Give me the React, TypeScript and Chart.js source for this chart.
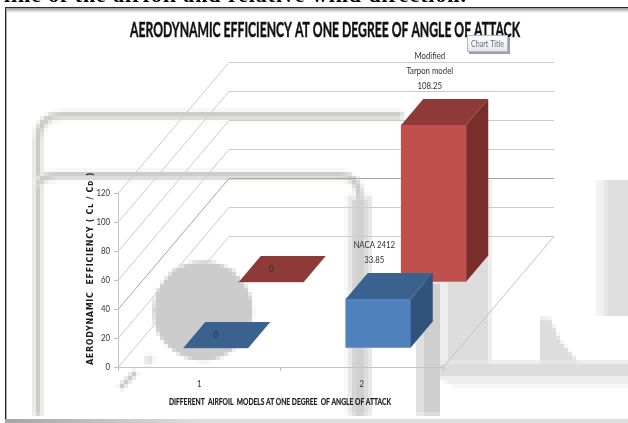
import React, { useEffect, useRef } from "react";
import { Chart, registerables } from "chart.js";

Chart.register(...registerables);

const categories = ["1", "2"];
const nacaValues = [0, 33.85];
const tarponValues = [0, 108.25];
const nacaLabels = [["0"], ["NACA 2412", "33.85"]];
const tarponLabels = [["0"], ["Modified", "Tarpon model", "108.25"]];
const chartTitle = "AERODYNAMIC EFFICIENCY AT ONE DEGREE OF ANGLE OF ATTACK";
const xTitle = "DIFFERENT  AIRFOIL  MODELS AT ONE DEGREE  OF ANGLE OF ATTACK";
const yTitle = "AERODYNAMIC  EFFICIENCY ( C\u029F / C\u1D05 )";
const runningText = "line of the airfoil and relative wind direction.";

const LABEL_FONT = 'Lato, "Liberation Sans", sans-serif';
const rowShift = [
  { x: 16.5, y: -19 },
  { x: 72, y: -85 },
];
const barDepth = { x: 22, y: -26 };
const wallDepth = { x: 111, y: -131 };
const faces = [
  { top: "#3b618f", side: "#31527a" },
  { top: "#8e3a38", side: "#7a2e2c" },
];
const seriesLabels = [nacaLabels, tarponLabels];

function poly(ctx: CanvasRenderingContext2D, pts: number[][], fill: string) {
  ctx.fillStyle = fill;
  ctx.beginPath();
  pts.forEach(([x, y], i) => (i ? ctx.lineTo(x, y) : ctx.moveTo(x, y)));
  ctx.closePath();
  ctx.fill();
}

// Text set tighter than the installed faces run by themselves.
function squeezed(ctx: CanvasRenderingContext2D, text: string, x: number, y: number, factor: number) {
  ctx.fillText(text, x, y, ctx.measureText(text).width * factor);
}

// Heavy heading type: the fill is thickened with a hairline of the same colour.
function heavyText(ctx: CanvasRenderingContext2D, text: string, x: number, y: number, width: number, weight: number) {
  ctx.lineWidth = weight;
  ctx.strokeStyle = ctx.fillStyle as string;
  ctx.strokeText(text, x, y, width);
  ctx.fillText(text, x, y, width);
}

// Blocky grey emblem behind the plot, painted small and enlarged without smoothing.
function paintEmblem(ctx: CanvasRenderingContext2D) {
  const k = 4;
  const off = document.createElement("canvas");
  off.width = Math.ceil(628 / k);
  off.height = Math.ceil(423 / k);
  const g = off.getContext("2d")!;
  g.scale(1 / k, 1 / k);
  const rect = (x: number, y: number, w: number, h: number, c: string) => {
    g.fillStyle = c;
    g.fillRect(x, y, w, h);
  };
  const band = (draw: () => void, core: number, halo: number) => {
    g.lineCap = "butt";
    g.beginPath();
    draw();
    g.strokeStyle = "#efefec";
    g.lineWidth = halo;
    g.stroke();
    g.strokeStyle = "#cccccc";
    g.lineWidth = core;
    g.stroke();
  };
  band(
    () => {
      g.moveTo(38, 415);
      g.lineTo(38, 140);
      g.quadraticCurveTo(38, 115, 62, 115);
      g.lineTo(402, 115);
    },
    5.5,
    11,
  );
  rect(347, 195, 25, 220, "#e8e8e8");
  band(
    () => {
      g.moveTo(38, 186);
      g.quadraticCurveTo(40, 175, 58, 175);
      g.lineTo(340, 175);
      g.quadraticCurveTo(360, 175, 360, 200);
      g.lineTo(360, 415);
    },
    5.5,
    11,
  );
  rect(353, 200, 13, 215, "#d0d0d0");
  g.fillStyle = "#cccccc";
  g.beginPath();
  g.arc(203, 311, 50, 0, Math.PI * 2);
  g.fill();
  rect(416, 282, 8, 133, "#e0e0e0");
  rect(424, 282, 16, 133, "#cfcfcf");
  rect(440, 180, 8, 182, "#eeeeee");
  rect(448, 180, 42, 182, "#dddddd");
  rect(440, 362, 188, 16, "#dddddd");
  rect(446, 378, 182, 6, "#eeeeee");
  rect(452, 384, 176, 5, "#f8f8f8");
  g.fillStyle = "#dddddd";
  g.beginPath();
  g.moveTo(540, 318);
  g.lineTo(550, 318);
  g.lineTo(560, 340);
  g.lineTo(578, 362);
  g.lineTo(540, 362);
  g.fill();
  rect(597, 180, 8, 136, "#f0f0f0");
  rect(605, 180, 23, 136, "#dedede");
  g.strokeStyle = "#cccccc";
  g.lineWidth = 5;
  g.beginPath();
  g.moveTo(120, 388);
  g.lineTo(136, 372);
  g.stroke();
  rect(145, 355, 8, 10, "#e4e4de");
  ctx.imageSmoothingEnabled = false;
  ctx.drawImage(off, 0, 0, off.width * k, off.height * k);
  ctx.imageSmoothingEnabled = true;
}

const backdrop = {
  id: "backdrop",
  beforeDraw(chart: any) {
    const ctx = chart.ctx as CanvasRenderingContext2D;
    ctx.save();
    ctx.fillStyle = "#ffffff";
    ctx.fillRect(0, 0, 628, 423);
    paintEmblem(ctx);
    // Page frame around the figure, with its soft drop shade.
    const shade = ctx.createLinearGradient(0, 8, 0, 13);
    shade.addColorStop(0, "#9a9a9a");
    shade.addColorStop(1, "#ffffff");
    ctx.fillStyle = shade;
    ctx.fillRect(6, 8, 622, 5);
    ctx.fillStyle = "#2b2b2b";
    ctx.fillRect(5, 7, 623, 1);
    ctx.fillRect(5, 7, 1, 413);
    ctx.fillStyle = "#a8a8a8";
    ctx.fillRect(6, 8, 1, 412);
    const foot = ctx.createLinearGradient(0, 0, 200, 0);
    foot.addColorStop(0, "#a4a4a4");
    foot.addColorStop(1, "#dedede");
    ctx.fillStyle = foot;
    ctx.fillRect(5, 419, 623, 4);
    ctx.fillStyle = "#000000";
    ctx.font = 'bold 22px "Liberation Serif", serif';
    ctx.textBaseline = "alphabetic";
    ctx.textAlign = "left";
    (ctx as any).letterSpacing = "0.9px";
    ctx.fillText(runningText, 4, 2);
    (ctx as any).letterSpacing = "0px";

    // Side wall and back wall rules of the plot box.
    const { left, right } = chart.chartArea;
    const y = chart.scales.y;
    ctx.lineWidth = 1;
    y.ticks.forEach((t: any) => {
      const py = Math.round(y.getPixelForValue(t.value)) + 0.5;
      const by = py + wallDepth.y;
      ctx.strokeStyle = t.value === 40 ? "#a6a6a6" : "#cbcbcb";
      ctx.beginPath();
      ctx.moveTo(left, py);
      ctx.lineTo(left + wallDepth.x, by);
      ctx.lineTo(right + wallDepth.x, by);
      ctx.stroke();
    });
    const floor = Math.round(y.getPixelForValue(0)) + 0.5;
    ctx.strokeStyle = "#c4c4c4";
    ctx.beginPath();
    ctx.moveTo(right, floor);
    ctx.lineTo(right + wallDepth.x, floor + wallDepth.y);
    ctx.stroke();
    ctx.restore();
  },
};

// Each series sits on its own row of the floor, so the library's front faces are
// shifted into depth and the top and side faces are added around them.
const depthBars = {
  id: "depthBars",
  beforeDatasetDraw(chart: any, args: any) {
    const s = rowShift[args.index];
    chart.ctx.save();
    chart.ctx.translate(s.x, s.y);
  },
  afterDatasetDraw(chart: any, args: any) {
    const ctx = chart.ctx as CanvasRenderingContext2D;
    const colours = faces[args.index];
    args.meta.data.forEach((bar: any) => {
      const { x, y, base, width } = bar.getProps(["x", "y", "base", "width"], true);
      const l = x - width / 2;
      const r = x + width / 2;
      poly(ctx, [[l, y], [r, y], [r + barDepth.x, y + barDepth.y], [l + barDepth.x, y + barDepth.y]], colours.top);
      if (base - y > 0) {
        poly(ctx, [[r, y], [r + barDepth.x, y + barDepth.y], [r + barDepth.x, base + barDepth.y], [r, base]], colours.side);
      }
    });
    ctx.restore();
  },
};

const valueLabels = {
  id: "valueLabels",
  afterDatasetsDraw(chart: any) {
    const ctx = chart.ctx as CanvasRenderingContext2D;
    ctx.save();
    ctx.fillStyle = "#2f2f2f";
    ctx.textAlign = "center";
    ctx.textBaseline = "middle";
    ctx.font = `10px ${LABEL_FONT}`;
    chart.data.datasets.forEach((ds: any, i: number) => {
      chart.getDatasetMeta(i).data.forEach((bar: any, j: number) => {
        const { x, y } = bar.getProps(["x", "y"], true);
        const lines = seriesLabels[i][j];
        const cx = x + rowShift[i].x + (ds.data[j] > 0 ? -4 : 0);
        const topY = y + rowShift[i].y + barDepth.y;
        lines.forEach((line, k) => {
          const ly = ds.data[j] > 0 ? topY - 13 - 15 * (lines.length - 1 - k) : topY + 13;
          squeezed(ctx, line, cx, ly, 0.78);
        });
      });
    });
    ctx.restore();
  },
};

// Headings, axis names and tick labels, set in tightened type.
const axisText = {
  id: "axisText",
  afterDraw(chart: any) {
    const ctx = chart.ctx as CanvasRenderingContext2D;
    const { x, y } = chart.scales;
    ctx.save();
    ctx.textBaseline = "middle";
    ctx.textAlign = "center";

    ctx.fillStyle = "#111111";
    ctx.font = `bold 20px ${LABEL_FONT}`;
    heavyText(ctx, chartTitle, 325, 31, 390, 0.45);

    ctx.fillStyle = "#1c1c1c";
    ctx.font = `bold 8.5px ${LABEL_FONT}`;
    heavyText(ctx, xTitle, 280, 402, 222, 0.2);

    ctx.save();
    ctx.translate(91, 268.5);
    ctx.rotate(-Math.PI / 2);
    ctx.font = 'bold 8px "DejaVu Sans", sans-serif';
    (ctx as any).letterSpacing = "0.7px";
    ctx.fillText(yTitle, 0, 0, 193);
    ctx.restore();

    ctx.fillStyle = "#333333";
    ctx.font = `10px ${LABEL_FONT}`;
    x.ticks.forEach((t: any, i: number) => {
      squeezed(ctx, String(t.label), x.getPixelForTick(i), 384, 0.78);
    });
    ctx.textAlign = "right";
    y.ticks.forEach((t: any) => {
      squeezed(ctx, String(t.label), 110, y.getPixelForValue(t.value), 0.78);
    });
    ctx.restore();
  },
};

// Little hover chip that overlaps the end of the heading.
const titleChip = {
  id: "titleChip",
  afterDraw(chart: any) {
    const ctx = chart.ctx as CanvasRenderingContext2D;
    ctx.save();
    ctx.fillStyle = "#a0a0a0";
    ctx.fillRect(469, 37, 41, 17);
    const g = ctx.createLinearGradient(0, 35, 0, 52);
    g.addColorStop(0, "#ffffff");
    g.addColorStop(1, "#e6e6f2");
    ctx.fillStyle = g;
    ctx.fillRect(467, 35, 41, 17);
    ctx.strokeStyle = "#b4b4c2";
    ctx.strokeRect(467.5, 35.5, 40, 16);
    ctx.fillStyle = "#6a6f80";
    ctx.font = `10px ${LABEL_FONT}`;
    ctx.textAlign = "center";
    ctx.textBaseline = "middle";
    ctx.fillText("Chart Title", 487.5, 43.5, 33);
    ctx.restore();
  },
};

export default function App() {
  const ref = useRef<HTMLCanvasElement>(null);
  useEffect(() => {
    const chart = new Chart(ref.current!, {
      type: "bar",
      data: {
        labels: categories,
        datasets: [
          { label: "NACA 2412", data: nacaValues, backgroundColor: "#4f81bd", clip: false as any },
          { label: "Modified Tarpon model", data: tarponValues, backgroundColor: "#c0504d", clip: false as any },
        ],
      },
      plugins: [backdrop, depthBars, valueLabels, axisText, titleChip],
      options: {
        animation: false,
        responsive: false,
        layout: { padding: { left: 84, right: 185, top: 193, bottom: 10 } },
        datasets: { bar: { grouped: false, barThickness: 65 } },
        plugins: {
          legend: { display: false },
          tooltip: { enabled: false },
          title: { display: false },
        },
        scales: {
          x: {
            grid: { drawOnChartArea: false, color: "#bdbdbd", tickLength: 4 },
            border: { color: "#c4c4c4" },
            ticks: { display: false },
            afterFit(scale: any) {
              scale.height = 46;
            },
          },
          y: {
            min: 0,
            max: 120,
            ticks: { stepSize: 20, display: false },
            grid: { drawOnChartArea: false, color: "#bdbdbd", tickLength: 4 },
            border: { color: "#c4c4c4" },
            afterFit(scale: any) {
              scale.width = 34;
            },
          },
        },
      },
    } as any);
    return () => chart.destroy();
  }, []);
  return (
    <canvas
      ref={ref}
      width={628}
      height={423}
      style={{ position: "fixed", left: 0, top: 0, display: "block" }}
    />
  );
}
